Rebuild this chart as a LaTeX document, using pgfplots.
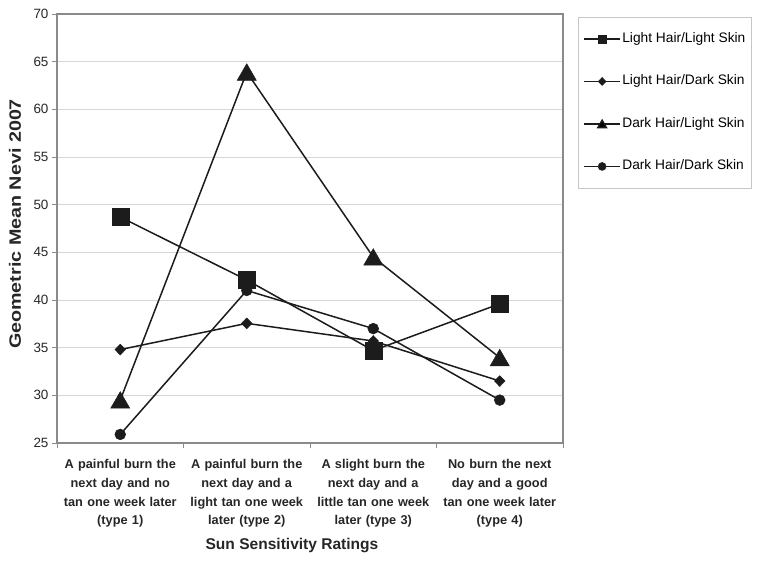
\documentclass[border=0pt]{standalone}
\usepackage{pgfplots}
\pgfplotsset{compat=1.18}
\usepackage{fontspec}
\setmainfont{Liberation Sans}
\usepackage{graphicx}
\definecolor{frame}{HTML}{8A8A8A}
\definecolor{gridc}{HTML}{D6D6D6}
\definecolor{ser}{HTML}{1C1C1C}
\begin{document}
\begin{tikzpicture}
\useasboundingbox (0,0) rectangle (764bp,564bp);
\begin{axis}[
 at={(57bp,121bp)}, anchor=south west, scale only axis,
 width=506bp, height=429bp,
 xmin=0.5, xmax=4.5, ymin=25, ymax=70,
 xtick={1,2,3,4},
 xticklabels={{A painful burn the\\next day and no\\tan one week later\\(type 1)},
              {A painful burn the\\next day and a\\light tan one week\\later (type 2)},
              {A slight burn the\\next day and a\\little tan one week\\later (type 3)},
              {No burn the next\\day and a good\\tan one week later\\(type 4)}},
 minor xtick={0.5,1.5,2.5,3.5,4.5},
 ytick={25,30,...,70},
 xtick pos=bottom, ytick pos=left,
 tick align=outside, major tick length=5bp, minor tick length=5bp,
 major x tick style={draw=none},
 tick style={draw=frame, line width=0.9bp},
 ymajorgrids, grid style={draw=gridc, line width=0.9bp},
 axis line style={draw=frame, line width=1.2bp},
 /pgf/number format/assume math mode=true,
 yticklabel style={font=\fontsize{13.5}{16}\selectfont, text=black!85},
 xticklabel style={font=\bfseries\fontsize{12.8}{18.7}\selectfont, text=black!85, text width=126bp, align=center, anchor=north, yshift=-8bp},
 xlabel={Sun Sensitivity Ratings},
 xlabel style={font=\bfseries\fontsize{15.6}{18}\selectfont, text=black!85, at={(axis description cs:0.4644,-0.2471)}, anchor=base},
 ylabel={\scalebox{1.2}[1]{Geometric Mean Nevi 2007}},
 ylabel style={font=\bfseries\fontsize{16.5}{18}\selectfont, text=black!85, at={(axis description cs:-0.083,0.5105)}, anchor=center, rotate=0},
 legend style={at={(1.0296,0.993)}, anchor=north west, draw=gray!45, line width=0.9bp, fill=white,
   inner xsep=5bp, inner ysep=15bp, row sep=29.5bp,
   font=\fontsize{13.8}{16}\selectfont,
   nodes={inner xsep=1.5bp, inner ysep=0bp, text height=10bp, text depth=3bp}},
 legend cell align=left,
]
\addplot[draw=ser, line width=1.5bp, mark=square*, mark size=8.5bp, mark options={fill=ser, draw=ser, line width=0.5bp},
  legend image code/.code={\draw[draw=ser, line width=1.4bp, mark repeat=2,mark phase=2,mark size=4bp] plot coordinates {(0bp,0bp)(18bp,0bp)(36bp,0bp)};}]
  coordinates {(1,48.7)(2,42.1)(3,34.7)(4,39.6)};
\addlegendentry{Light Hair/Light Skin}
\addplot[draw=ser, line width=1.5bp, mark=diamond*, mark size=5.4bp, mark options={fill=ser, draw=ser, line width=0.5bp, xscale=1.3},
  legend image code/.code={\draw[draw=ser, line width=1.4bp, mark repeat=2,mark phase=2,mark size=4bp] plot coordinates {(0bp,0bp)(18bp,0bp)(36bp,0bp)};}]
  coordinates {(1,34.8)(2,37.55)(3,35.7)(4,31.5)};
\addlegendentry{Light Hair/Dark Skin}
\addplot[draw=ser, line width=1.5bp, mark=triangle*, mark size=11bp, mark options={fill=ser, draw=ser, line width=0.5bp, yshift=-2.6bp},
  legend image code/.code={\draw[draw=ser, line width=1.4bp, mark repeat=2,mark phase=2,mark size=5bp,mark options={yshift=-1.2bp}] plot coordinates {(0bp,0bp)(18bp,0bp)(36bp,0bp)};}]
  coordinates {(1,29.5)(2,63.9)(3,44.5)(4,33.95)};
\addlegendentry{Dark Hair/Light Skin}
\addplot[draw=ser, line width=1.5bp, mark=*, mark size=5.4bp, mark options={fill=ser, draw=ser, line width=0.5bp},
  legend image code/.code={\draw[draw=ser, line width=1.4bp, mark repeat=2,mark phase=2,mark size=4bp] plot coordinates {(0bp,0bp)(18bp,0bp)(36bp,0bp)};}]
  coordinates {(1,25.9)(2,41.0)(3,37.0)(4,29.5)};
\addlegendentry{Dark Hair/Dark Skin}
\end{axis}
\end{tikzpicture}
\end{document}
